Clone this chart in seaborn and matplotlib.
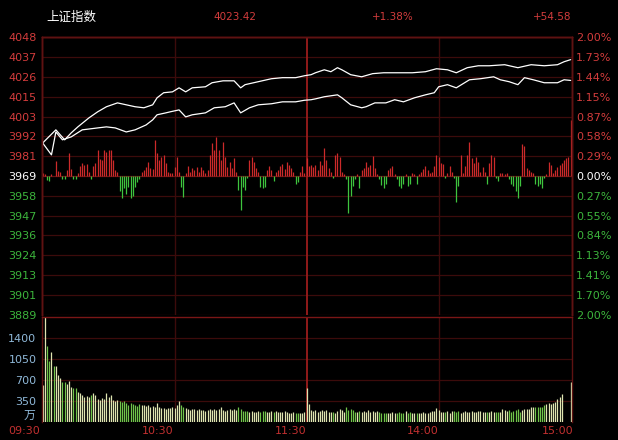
import numpy as np
import matplotlib
matplotlib.use("Agg")
import matplotlib.pyplot as plt
import seaborn as sns

# 上证指数 分时图数据
prev_close = 3968.84
last_price = "4023.42"
change_pct = "+1.38%"
change_pts = "+54.58"

price_labels = ["4048", "4037", "4026", "4015", "4003", "3992", "3981", "3969",
                "3958", "3947", "3936", "3924", "3913", "3901", "3889"]
pct_labels = ["2.00%", "1.73%", "1.44%", "1.15%", "0.87%", "0.58%", "0.29%", "0.00%",
              "0.27%", "0.55%", "0.84%", "1.13%", "1.41%", "1.70%", "2.00%"]
vol_ticks = [350, 700, 1050, 1400]
vol_labels = ["350", "700", "1050", "1400"]
time_labels = ["09:30", "10:30", "11:30", "14:00", "15:00"]

# 两条白线: 分钟 / 点位
up_t = [0, 6, 10, 13, 16, 21, 25, 29, 34, 42, 46, 50, 52, 55, 59, 62, 65, 68, 74, 77,
        82, 87, 90, 92, 98, 104, 109, 115, 119, 122, 124, 128, 131, 134, 136, 140, 145, 150, 155, 161,
        168, 174, 179, 184, 188, 193, 198, 203, 210, 216, 222, 228, 234, 237, 240]
up_v = [3987.7, 3995.2, 3989.5, 3993.5, 3996.9, 4002.0, 4005.5, 4008.4, 4010.6, 4008.4,
        4007.8, 4009.5, 4013.5, 4016.4, 4016.9, 4019.2, 4016.9, 4019.2, 4019.8, 4022.1,
        4023.2, 4023.2, 4019.2, 4021.0, 4022.7, 4024.4, 4025.0, 4025.0, 4026.1, 4026.7,
        4027.8, 4029.5, 4028.4, 4030.7, 4029.5, 4026.7, 4025.5, 4027.3, 4027.8, 4027.8,
        4027.8, 4028.4, 4030.1, 4029.5, 4027.8, 4030.7, 4031.8, 4031.8, 4032.4, 4030.7,
        4032.4, 4031.8, 4032.4, 4034.1, 4035.3]
lo_t = [0, 4, 6, 9, 13, 18, 25, 29, 33, 38, 42, 47, 50, 52, 56, 58, 62, 65, 68, 74,
        78, 83, 87, 90, 94, 98, 104, 109, 115, 119, 122, 124, 128, 134, 136, 140, 145, 147, 151, 156,
        160, 164, 169, 174, 178, 180, 184, 188, 194, 199, 205, 208, 212, 216, 219, 223, 228, 234, 237, 240]
lo_v = [3987.7, 3980.9, 3994.0, 3989.5, 3991.2, 3995.2, 3996.3, 3996.9, 3996.3, 3994.0,
        3995.2, 3998.0, 4000.9, 4003.8, 4004.9, 4005.5, 4006.6, 4002.6, 4003.8, 4004.9,
        4007.8, 4008.4, 4010.6, 4004.9, 4007.8, 4009.5, 4010.1, 4011.2, 4011.2, 4012.1,
        4012.4, 4012.9, 4014.1, 4015.2, 4013.5, 4009.5, 4007.8, 4008.4, 4010.6, 4010.6,
        4012.4, 4011.2, 4013.5, 4015.2, 4016.4, 4019.8, 4021.0, 4019.2, 4023.8, 4024.4,
        4025.5, 4023.8, 4022.7, 4021.0, 4025.0, 4023.8, 4022.1, 4022.1, 4023.8, 4023.42]

# 红绿柱 (每分钟)
power = [3, 2, -4, -5, 2, 0, 15, 5, 4, -3,
         -3, 6, 23, 7, -3, -3, 3, 10, 13, 11,
         12, 4, -3, 10, 13, 26, 17, 16, 26, 24,
         26, 26, 16, 6, 4, -15, -22, -12, -18, -11,
         -22, -20, -11, -6, -3, 4, 6, 9, 14, 8,
         7, 36, 23, 16, 19, 21, 13, 4, 3, 3,
         9, 19, 4, -11, -21, 3, 10, 4, 8, 6,
         9, 4, 9, 6, 3, 6, 21, 33, 26, 39,
         26, 16, 34, 19, 9, 14, 8, 18, 4, -14,
         -34, -11, -14, -2, 16, 19, 14, 8, 4, -11,
         -12, -11, 6, 10, 6, -5, 4, 6, 10, 12,
         7, 14, 11, 8, 4, -8, -6, 4, 10, 3,
         18, 10, 11, 9, 11, 6, 15, 11, 28, 16,
         8, 4, -2, 21, 23, 19, 4, 2, -3, -37,
         -20, -10, -3, 2, -12, 6, 8, 14, 9, 11,
         20, 8, 2, -3, -9, -12, -8, 6, 8, 10,
         2, -3, -10, -12, -8, 2, -10, -8, 3, 2,
         -8, 2, 4, 7, 10, 6, 3, 4, 10, 21,
         19, 13, 12, -2, 3, 10, 4, -2, -26, -10,
         21, 3, 10, 21, 34, 18, 13, 19, 14, 4,
         9, 4, -8, 13, 21, 19, -2, -5, 3, 3,
         2, 3, -3, -8, -10, -15, -22, -10, 32, 30,
         8, 6, 4, 3, -8, -10, -8, -12, -2, 2,
         14, 11, 3, 6, 9, 11, 13, 16, 18, 19,
         56]

# 成交量 (万手)
volume = [614, 1748, 1262, 1018, 1157, 930, 930, 780, 725, 669,
          670, 631, 686, 586, 570, 559, 503, 476, 448, 420,
          432, 420, 448, 476, 448, 376, 365, 393, 376, 476,
          410, 448, 365, 354, 365, 354, 337, 348, 321, 282,
          310, 293, 282, 265, 299, 282, 282, 271, 282, 254,
          265, 254, 310, 243, 227, 238, 221, 238, 227, 243,
          227, 282, 348, 282, 243, 227, 210, 199, 210, 216,
          199, 216, 199, 199, 188, 199, 210, 199, 216, 199,
          210, 254, 199, 182, 199, 210, 199, 210, 199, 243,
          210, 188, 182, 188, 171, 182, 171, 160, 182, 171,
          188, 182, 171, 171, 188, 171, 182, 171, 160, 171,
          182, 160, 155, 155, 166, 155, 144, 155, 155, 171,
          559, 293, 199, 188, 199, 171, 188, 199, 188, 199,
          171, 171, 171, 155, 188, 216, 199, 171, 254, 199,
          210, 199, 171, 171, 188, 171, 188, 171, 199, 171,
          188, 171, 182, 160, 144, 144, 155, 155, 144, 160,
          144, 155, 171, 155, 144, 182, 155, 171, 155, 155,
          144, 155, 155, 171, 144, 155, 171, 188, 188, 227,
          199, 171, 171, 171, 182, 155, 182, 188, 171, 182,
          155, 171, 188, 171, 171, 188, 171, 171, 188, 188,
          171, 171, 171, 171, 182, 160, 171, 171, 171, 210,
          199, 182, 199, 171, 182, 199, 210, 171, 199, 210,
          216, 210, 243, 243, 243, 243, 254, 254, 282, 299,
          321, 299, 310, 337, 376, 410, 465, 0, 0, 0,
          669]

minutes = np.arange(len(power))

# 样式
sns.set_theme(style="dark", rc={"figure.facecolor": "black", "axes.facecolor": "black",
                                "savefig.facecolor": "black"})
plt.rcParams["font.family"] = ["DejaVu Sans", "Noto Sans CJK SC"]

RED = "#d23c3c"
GREEN = "#3cb43c"
GRID = "#3c0b0b"
BORDER = "#5e1212"

W, H = 618, 440
def box(l, t, r, b):
    return [l / W, 1 - b / H, (r - l) / W, (b - t) / H]

fig = plt.figure(figsize=(W / 100, H / 100), dpi=100)
ax = fig.add_axes(box(42, 37.4, 572, 314.6))
axv = fig.add_axes(box(42, 316.5, 572, 422))

step = (float(price_labels[0]) - prev_close) / 7
levels = prev_close + step * np.arange(7, -8, -1)
ylim = (levels[-1], levels[0])
xlim = (-0.3, 240.6)

# 价格区
ax.set_xlim(*xlim)
ax.set_ylim(*ylim)
ax.set_xticks([])
ax.set_yticks(levels)
ax.set_yticklabels(price_labels)
ax.tick_params(axis="y", length=0, pad=4, labelsize=8)
for i, lab in enumerate(ax.get_yticklabels()):
    lab.set_color(RED if i < 7 else ("white" if i == 7 else GREEN))
for i, y in enumerate(levels):
    ax.axhline(y, color="#661414" if i == 7 else GRID, lw=0.9, zorder=0)
for t in (60, 180):
    ax.axvline(t, color=GRID, lw=1.0, zorder=0)
ax.axvline(120, color="#9c1c1c", lw=1.3, zorder=0)

# 红绿柱
ax3 = ax.twinx()
ax3.set_ylim(-138.6, 138.6)
ax3.set_yticks([])
pw = np.array(power)
ax3.vlines(minutes[pw > 0], 0, pw[pw > 0], colors="#cc2a2a", lw=0.9)
ax3.vlines(minutes[pw < 0], pw[pw < 0], 0, colors="#3ec43e", lw=0.9)

# 右侧百分比 + 白线
ax2 = ax.twinx()
ax2.set_ylim(*ylim)
ax2.set_yticks(levels)
ax2.set_yticklabels(pct_labels)
ax2.tick_params(axis="y", length=0, pad=3, labelsize=8)
for i, lab in enumerate(ax2.get_yticklabels()):
    lab.set_color(RED if i < 7 else ("white" if i == 7 else GREEN))
sns.lineplot(x=up_t, y=up_v, ax=ax2, color="white", lw=0.9, sort=False)
sns.lineplot(x=lo_t, y=lo_v, ax=ax2, color="white", lw=0.9, sort=False)
ax2.set_xlim(*xlim)

for a in (ax, ax2, ax3):
    for s in a.spines.values():
        s.set_color(BORDER)
        s.set_linewidth(1.0)
    a.spines["bottom"].set_visible(False)

# 成交量区
axv.set_xlim(*xlim)
axv.set_ylim(0, 1750)
axv.set_xticks([])
axv.set_yticks(vol_ticks)
axv.set_yticklabels(vol_labels)
axv.tick_params(axis="y", length=0, pad=4, labelsize=8, labelcolor="#8fb8d8")
for y in vol_ticks:
    axv.axhline(y, color=GRID, lw=0.9, zorder=0)
for t in (60, 180):
    axv.axvline(t, color=GRID, lw=1.0, zorder=0)
axv.axvline(120, color="#9c1c1c", lw=1.3, zorder=0)
vol_colors = np.where(pw > 0, "#dfe4b0", "#70c44a")
axv.vlines(minutes, 0, volume, colors=vol_colors, lw=0.9)
for s in axv.spines.values():
    s.set_color(BORDER)
    s.set_linewidth(1.0)
axv.spines["top"].set_color("#7a1616")
axv.spines["bottom"].set_visible(False)
axv.text(-0.012, 0.06, "万", transform=axv.transAxes, ha="right", va="center",
         color="#8fb8d8", fontsize=8.5, family=["Noto Sans CJK SC", "DejaVu Sans"])

# 标题行
fig.text(46 / W, 1 - 17 / H, "上证指数", color="white", fontsize=9, va="center",
         family=["Noto Sans CJK SC", "DejaVu Sans"])
fig.text(235 / W, 1 - 17 / H, last_price, color=RED, fontsize=7.5, ha="center", va="center")
fig.text(393 / W, 1 - 17 / H, change_pct, color=RED, fontsize=7.5, ha="center", va="center")
fig.text(552 / W, 1 - 17 / H, change_pts, color=RED, fontsize=7.5, ha="center", va="center")

# 时间轴
x_px = [40, 173, 306, 439, 573]
for xp, lab in zip(x_px, time_labels):
    fig.text(xp / W, 1 - 431 / H, lab, color="#c23030", fontsize=8, ha="right", va="center")

fig.savefig("out.png", dpi=100, facecolor="black")
